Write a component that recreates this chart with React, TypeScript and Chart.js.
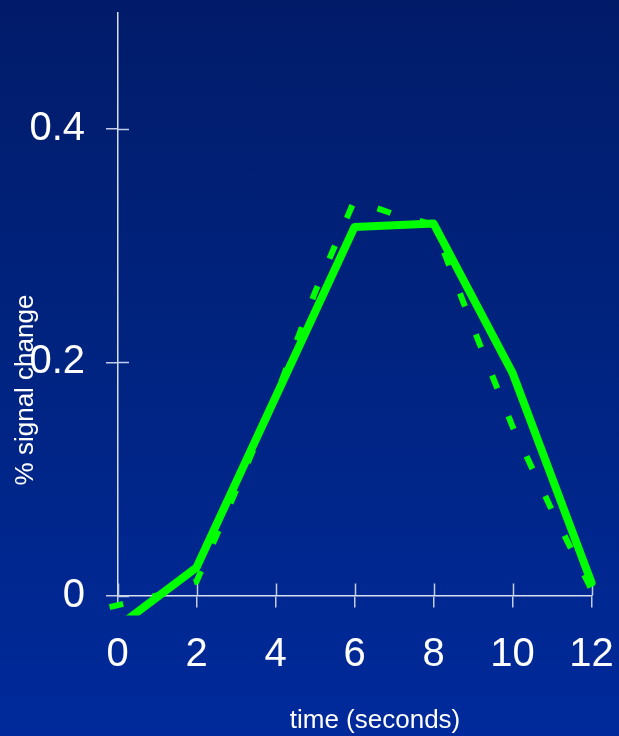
import React, { useEffect, useRef } from "react";
import { Chart, registerables } from "chart.js";

Chart.register(...registerables);

// Data
const solidTimes = [0, 2, 6, 8, 10, 12];
const solidValues = [-0.027, 0.024, 0.316, 0.319, 0.191, 0.011];

const dashedTimes = [-0.2, 1, 2, 3, 4, 5, 6, 7, 8, 9, 10, 11, 12];
const dashedValues = [-0.01, 0.0, 0.012, 0.09, 0.17, 0.26, 0.339, 0.327, 0.318, 0.23, 0.145, 0.073, 0.005];

const xTicks = [0, 2, 4, 6, 8, 10, 12];
const yTicks = [0, 0.2, 0.4];
const xTitle = "time (seconds)";
const yTitle = "% signal change";

const FONT = "'Liberation Sans', Arial, Helvetica, sans-serif";
const AXIS_COLOR = "#d9e0f2";
const TICK_COLOR = "#c4cde8";
const GREEN = "#00ff00";

const innerTicksAndTitles = {
  id: "innerTicksAndTitles",
  beforeDatasetsDraw(chart: any) {
    const { ctx, chartArea, scales } = chart;
    ctx.save();
    ctx.strokeStyle = TICK_COLOR;
    ctx.lineWidth = 1.5;
    ctx.beginPath();
    for (const v of yTicks) {
      const y = Math.round(scales.y.getPixelForValue(v)) + 0.5;
      ctx.moveTo(chartArea.left, y);
      ctx.lineTo(chartArea.left + 11.5, y);
    }
    for (const v of xTicks) {
      const x = Math.round(scales.x.getPixelForValue(v)) + 0.5;
      ctx.moveTo(x, chartArea.bottom);
      ctx.lineTo(x, chartArea.bottom - 12);
    }
    ctx.stroke();
    ctx.restore();
  },
  afterDraw(chart: any) {
    const { ctx } = chart;
    ctx.save();
    ctx.fillStyle = "#ffffff";
    ctx.font = `26px ${FONT}`;
    ctx.textAlign = "center";
    ctx.textBaseline = "middle";
    ctx.fillText(xTitle, 375, 721);
    ctx.translate(26, 390);
    ctx.rotate(-Math.PI / 2);
    ctx.fillText(yTitle, 0, 0);
    ctx.restore();
  },
};

const zeroPad = (s: any) => {
  s.paddingTop = 0;
  s.paddingBottom = 0;
  s.paddingLeft = 0;
  s.paddingRight = 0;
};

export default function App() {
  const ref = useRef<HTMLCanvasElement | null>(null);

  useEffect(() => {
    if (!ref.current) return;
    const chart = new Chart(ref.current, {
      type: "line",
      data: {
        datasets: [
          {
            data: dashedTimes.map((t, i) => ({ x: t, y: dashedValues[i] })),
            borderColor: GREEN,
            borderWidth: 6,
            borderDash: [14, 30],
            borderCapStyle: "butt",
            borderJoinStyle: "miter",
            pointRadius: 0,
            tension: 0,
            fill: false,
            clip: { left: 12, top: 20, right: 12, bottom: 20 },
          },
          {
            data: solidTimes.map((t, i) => ({ x: t, y: solidValues[i] })),
            borderColor: GREEN,
            borderWidth: 8,
            borderCapStyle: "round",
            borderJoinStyle: "round",
            pointRadius: 0,
            tension: 0,
            fill: false,
            clip: { left: 12, top: 20, right: 12, bottom: 20 },
          },
        ],
      },
      options: {
        animation: false,
        responsive: false,
        devicePixelRatio: 1,
        layout: { padding: { left: 0, right: 27.5, top: 12.4, bottom: 0 } },
        plugins: {
          legend: { display: false },
          tooltip: { enabled: false },
          title: { display: false },
        },
        scales: {
          x: {
            type: "linear",
            min: 0,
            max: 12,
            afterFit: (s: any) => {
              s.height = 140.5;
              zeroPad(s);
            },
            afterBuildTicks: (s: any) => {
              s.ticks = xTicks.map((v) => ({ value: v }));
            },
            ticks: {
              color: "#ffffff",
              font: { family: FONT, size: 40 },
              padding: 23,
              maxRotation: 0,
              autoSkip: false,
              callback: (v: any) => String(v),
            },
            grid: {
              display: true,
              drawOnChartArea: false,
              drawTicks: true,
              tickLength: 12,
              color: TICK_COLOR,
              lineWidth: 1.5,
            },
            border: { display: true, color: AXIS_COLOR, width: 1.5 },
          },
          y: {
            type: "linear",
            min: 0,
            max: 0.5,
            afterFit: (s: any) => {
              s.width = 117.5;
              zeroPad(s);
            },
            afterBuildTicks: (s: any) => {
              s.ticks = yTicks.map((v) => ({ value: v }));
            },
            ticks: {
              color: "#ffffff",
              font: { family: FONT, size: 40 },
              padding: 21,
              autoSkip: false,
              callback: (v: any) => String(v),
            },
            grid: {
              display: true,
              drawOnChartArea: false,
              drawTicks: true,
              tickLength: 11.5,
              color: TICK_COLOR,
              lineWidth: 1.5,
            },
            border: { display: true, color: AXIS_COLOR, width: 1.5 },
          },
        },
      },
      plugins: [innerTicksAndTitles],
    });
    return () => chart.destroy();
  }, []);

  return (
    <div
      style={{
        position: "fixed",
        left: 0,
        top: 0,
        width: 619,
        height: 736,
        background: "linear-gradient(to bottom, #011b69 0%, #00237f 45%, #002a9b 100%)",
      }}
    >
      <canvas ref={ref} width={619} height={736} style={{ display: "block" }} />
    </div>
  );
}
